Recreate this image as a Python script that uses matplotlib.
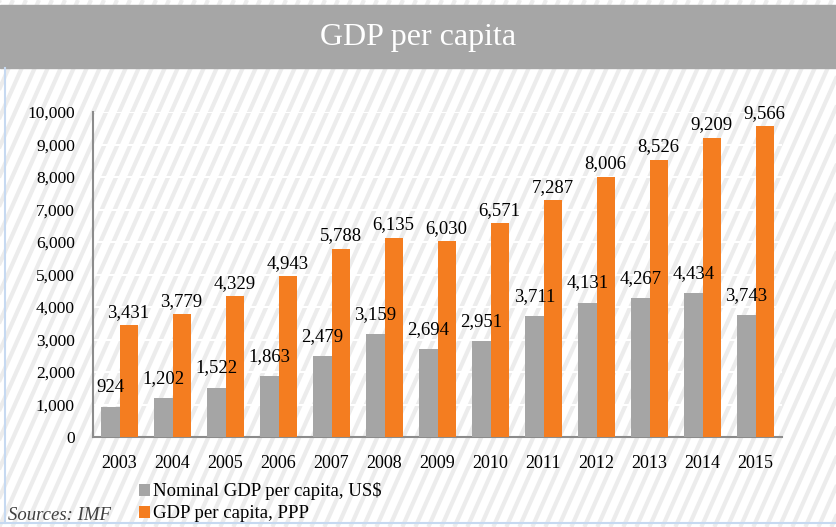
import numpy as np
import matplotlib
matplotlib.use("Agg")
import matplotlib.pyplot as plt
from matplotlib.patches import Rectangle

plt.rcParams["font.family"] = ["Liberation Serif", "DejaVu Serif"]

# ── data ────────────────────────────────────────────
years = ["2003", "2004", "2005", "2006", "2007", "2008", "2009",
         "2010", "2011", "2012", "2013", "2014", "2015"]
nominal = [924, 1202, 1522, 1863, 2479, 3159, 2694,
           2951, 3711, 4131, 4267, 4434, 3743]
ppp = [3431, 3779, 4329, 4943, 5788, 6135, 6030,
       6571, 7287, 8006, 8526, 9209, 9566]
y_ticks = list(range(0, 10001, 1000))

GRAY = "#a5a5a5"
ORANGE = "#f47d20"
W, H = 836, 527

fig = plt.figure(figsize=(W / 100, H / 100), dpi=100)
fig.patch.set_facecolor("white")

# background stripes (pixel coords)
bg = fig.add_axes([0, 0, 1, 1], zorder=0)
bg.set_xlim(0, W)
bg.set_ylim(0, H)
bg.axis("off")
dx = H / np.tan(np.radians(66))
for x0 in np.arange(-dx, W + 20, 13):
    bg.plot([x0, x0 + dx], [0, H], color="#ececec", lw=3.0, solid_capstyle="butt")
# title banner
bg.add_patch(Rectangle((0, H - 68), W, 63, color="#a6a6a6", zorder=3))
bg.text(W / 2, H - 38, "GDP per capita", color="white", fontsize=23,
        ha="center", va="center", zorder=4)
# light blue frame lines
bg.plot([5, 5], [4, H - 68], color="#c6d9f1", lw=1.5, zorder=4)
bg.plot([0, W], [4, 4], color="#c6d9f1", lw=1.5, zorder=4)
bg.text(8, 11, "Sources: IMF", fontsize=13.5, style="italic",
        color="#404040", ha="left", va="center", zorder=4)

# main chart
ax = fig.add_axes([93 / W, 90 / H, 689 / W, 325 / H], zorder=2)
ax.patch.set_alpha(0)
x = np.arange(len(years))
bw = 0.34
b1 = ax.bar(x - bw / 2, nominal, bw, color=GRAY, zorder=3,
            label="Nominal GDP per capita, US$")
b2 = ax.bar(x + bw / 2, ppp, bw, color=ORANGE, zorder=3,
            label="GDP per capita, PPP")

for xi, v in zip(x, nominal):
    ax.annotate(f"{v:,}", (xi - bw / 2, v), xytext=(0, 11), textcoords="offset points",
                ha="center", va="baseline", fontsize=13.5, zorder=5)
for xi, v in zip(x, ppp):
    ax.annotate(f"{v:,}", (xi + bw / 2, v), xytext=(0, 6), textcoords="offset points",
                ha="center", va="baseline", fontsize=13.5, zorder=5)

ax.set_xlim(-0.5, len(years) - 0.5)
ax.set_ylim(0, 10000)
ax.set_yticks(y_ticks)
ax.set_yticklabels([f"{t:,}" for t in y_ticks], fontsize=12.5)
ax.set_xticks(x)
ax.set_xticklabels(years, fontsize=13)
ax.tick_params(length=0)
ax.tick_params(axis="y", pad=13)
ax.tick_params(axis="x", pad=13)
ax.grid(axis="y", color="white", lw=1.5, zorder=1)
for s in ["top", "right"]:
    ax.spines[s].set_visible(False)
for s in ["left", "bottom"]:
    ax.spines[s].set_color("#8c8c8c")
    ax.spines[s].set_linewidth(1.5)

fig.legend(handles=[b1, b2], loc="upper left", bbox_to_anchor=(131 / W, 52 / H),
           frameon=False, fontsize=13.5, handlelength=0.6, handleheight=0.6,
           handletextpad=0.15, labelspacing=0.25, borderaxespad=0)

fig.savefig("out.png", dpi=100)
